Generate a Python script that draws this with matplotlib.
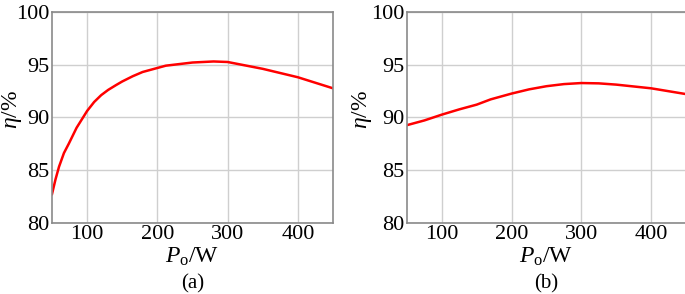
import matplotlib
matplotlib.use("Agg")
import matplotlib.pyplot as plt

plt.rcParams['font.family'] = ['Liberation Serif', 'DejaVu Serif']
plt.rcParams['mathtext.fontset'] = 'custom'
plt.rcParams['mathtext.rm'] = 'Liberation Serif'
plt.rcParams['mathtext.it'] = 'Liberation Serif:italic'

power_a = [50, 55, 60, 67, 74, 85, 100, 110, 120, 130, 141, 150, 165, 179, 212, 250, 280, 300, 350, 400, 450]
eta_a = [82.7, 84.1, 85.3, 86.6, 87.5, 89.0, 90.6, 91.45, 92.1, 92.6, 93.05, 93.4, 93.9, 94.3, 94.9, 95.2, 95.3, 95.25, 94.6, 93.8, 92.75]

power_b = [50, 75, 100, 125, 150, 170, 200, 225, 250, 275, 300, 325, 350, 400, 450]
eta_b = [89.25, 89.7, 90.25, 90.75, 91.2, 91.7, 92.25, 92.65, 92.95, 93.15, 93.25, 93.22, 93.1, 92.75, 92.2]

xticks = [100, 200, 300, 400]
yticks = [80, 85, 90, 95, 100]
panel_labels = ['(a)', '(b)']

fig = plt.figure(figsize=(6.85, 2.94), dpi=100)
W, H = 685, 294
axes_px = [(52, 12, 333, 222.5), (407, 12, 686, 222.5)]
ylab_x = [12, 362]

for (l, t, r, b), px, ey, lab, yx in zip(axes_px, [power_a, power_b], [eta_a, eta_b], panel_labels, ylab_x):
    ax = fig.add_axes([l / W, 1 - b / H, (r - l) / W, (b - t) / H])
    ax.plot(px, ey, color='#ff0000', lw=1.8, solid_joinstyle='round')
    ax.set_xlim(50, 450)
    ax.set_ylim(80, 100)
    ax.set_xticks(xticks)
    ax.set_yticks(yticks)
    ax.grid(True, color='#cfcfcf', lw=1.0)
    ax.set_axisbelow(True)
    ax.tick_params(length=0, labelsize=16)
    ax.tick_params(axis='x', pad=2)
    ax.tick_params(axis='y', pad=2)
    for s in ax.spines.values():
        s.set_color('#8a8a8a')
        s.set_linewidth(1.2)
    ax.text(0.5, (b - 263) / (b - t), r'$P_\mathrm{o}$/W', transform=ax.transAxes,
            ha='center', va='baseline', fontsize=17)
    ax.text((yx - l) / (r - l), (b - 109) / (b - t), r'$\eta$/%', transform=ax.transAxes,
            ha='center', va='center', rotation=90, fontsize=17)
    ax.text(0.5, (b - 284) / (b - t), lab, transform=ax.transAxes,
            ha='center', va='center', fontsize=15)

fig.savefig('out.png', dpi=100)
